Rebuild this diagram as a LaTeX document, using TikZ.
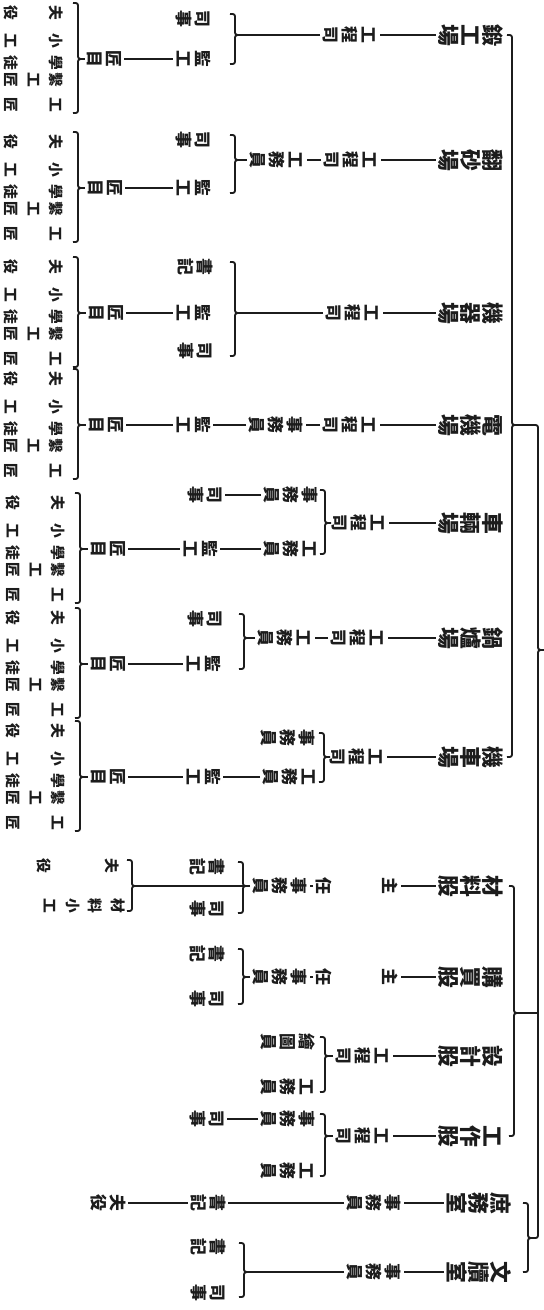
\documentclass[tikz,border=0pt]{standalone}
\usepackage{fontspec}
\newfontfamily\cjk{Noto Sans CJK TC}
\usetikzlibrary{calc}
\definecolor{Ink}{HTML}{1C1C1C}
\definecolor{Paper}{HTML}{FFFFFF}

% vertical text: one glyph per slot, "|" leaves an empty slot
\makeatletter
\newdimen\vtsep
\newdimen\vtslot
\def\vt@end{\vt@end}
\newcommand\vt[1]{\vbox{\offinterlineskip\vt@loop#1\vt@end\unkern}}
\def\vt@loop#1{%
  \ifx#1\vt@end\else
    \ifx#1|\kern\vtslot\else\hbox{\vrule height.88em depth.12em width0pt\relax#1}\fi
    \kern\vtsep
    \expandafter\vt@loop
  \fi}
\makeatother

\newcommand\unitfont{\cjk\bfseries\fontsize{15.5}{15.5}\selectfont\vtsep=0pt\vtslot=1em\relax}
\newcommand\postfont{\cjk\bfseries\fontsize{12}{12}\selectfont\vtsep=1.5pt\vtslot=1em\relax}
\newcommand\widefont{\postfont\vtslot=32pt\relax}
\newcommand\handfont{\cjk\bfseries\fontsize{10.5}{10.5}\selectfont\vtsep=5.5pt\vtslot=1em\relax}

% curly bracket: name, spine x, top y, tip y, bottom y
\newcommand\curly[5]{%
  \coordinate (#1) at (#2+6,#4);
  \coordinate (#1s) at (#2,#4);
  \draw[brk] (#2-5,#3) .. controls (#2,#3) .. (#2,#3+5) -- (#2,#4-5)
    .. controls (#2,#4) .. (#2+6,#4) .. controls (#2,#4) .. (#2,#4+5)
    -- (#2,#5-5) .. controls (#2,#5) .. (#2-5,#5);}

\tikzset{
  unit/.style={rotate=-90,inner sep=1.5pt,text=Ink,font=\unitfont},
  post/.style={rotate=-90,inner sep=1.5pt,text=Ink,font=\postfont},
  wide/.style={font=\widefont},
  hand/.style={rotate=-90,inner sep=1pt,text=Ink,font=\handfont},
  link/.style={draw=Ink,line width=1.1pt},
  brk/.style={draw=Ink,line width=1.3pt},
  pics/crew/.style={code={
    \draw[brk] (-5,-56) .. controls (0,-56) .. (0,-51) -- (0,-5) .. controls (0,0) .. (6,0)
      .. controls (0,0) .. (0,5) -- (0,49) .. controls (0,54) .. (-5,54);
    \coordinate (-tip) at (6,0);
    \node[hand] (-a) at (-44,-46) {\vt{夫|役}};
    \node[hand] (-b) at (-44,-18) {\vt{小|工}};
    \node[hand] (-c) at (-44,4) {\vt{學|徒}};
    \node[hand] (-d) at (-44,21) {\vt{繫工匠}};
    \node[hand] (-e) at (-44,46) {\vt{工|匠}};
  }}
}

\begin{document}
\begin{tikzpicture}[x=0.025cm,y=-0.025cm]
  \useasboundingbox[fill=Paper] (0,0) rectangle (544,1310);

  % top brackets
  \curly{ga}{512}{35}{425}{757}
  \curly{gb}{514}{886}{1013}{1136}
  \curly{gc}{528}{1203}{1238}{1272}
  \curly{go}{538}{425}{650}{1238}
  \coordinate (goa) at (533,425);
  \coordinate (gob) at (538,1013);
  \draw[link] (ga) -- (goa);
  \draw[link] (gb) -- (gob);

  % works 1
  \node[unit] (w1) at (471,35) {\vt{鍛工場}};
  \node[post] (w1e) at (350,35) {\vt{工程司}};
  \curly{w1b}{235}{14}{35}{64}
  \node[post] (w1c) at (193,19) {\vt{司事}};
  \node[post] (w1f) at (193,59) {\vt{監工}};
  \node[post] (w1h) at (104,59) {\vt{匠目}};
  \pic (w1k) at (78,59) {crew};
  \draw[link] (w1) -- (w1e);
  \draw[link] (w1e) -- (w1b);
  \draw[link] (w1f) -- (w1h);
  \draw[link] (w1h) -- (w1k-tip);

  % works 2
  \node[unit] (w2) at (471,160) {\vt{翻砂場}};
  \node[post] (w2e) at (351,160) {\vt{工程司}};
  \node[post] (w2s) at (277,160) {\vt{工務員}};
  \curly{w2b}{235}{135}{160}{193}
  \node[post] (w2c) at (193,140) {\vt{司事}};
  \node[post] (w2f) at (193,188) {\vt{監工}};
  \node[post] (w2h) at (105,188) {\vt{匠目}};
  \pic (w2k) at (78,188) {crew};
  \draw[link] (w2) -- (w2e);
  \draw[link] (w2e) -- (w2s);
  \draw[link] (w2s) -- (w2b);
  \draw[link] (w2f) -- (w2h);
  \draw[link] (w2h) -- (w2k-tip);

  % works 3
  \node[unit] (w3) at (471,313) {\vt{機器場}};
  \node[post] (w3e) at (353,313) {\vt{工程司}};
  \curly{w3b}{235}{262}{313}{356}
  \node[post] (w3c) at (195,267) {\vt{書記}};
  \node[post] (w3f) at (193,313) {\vt{監工}};
  \node[post] (w3d) at (195,351) {\vt{司事}};
  \node[post] (w3h) at (106,313) {\vt{匠目}};
  \pic (w3k) at (78,313) {crew};
  \draw[link] (w3) -- (w3e);
  \draw[link] (w3e) -- (w3b);
  \draw[link] (w3f) -- (w3h);
  \draw[link] (w3h) -- (w3k-tip);

  % works 4
  \node[unit] (w4) at (471,425) {\vt{電機場}};
  \node[post] (w4e) at (350,425) {\vt{工程司}};
  \node[post] (w4s) at (276,425) {\vt{事務員}};
  \node[post] (w4f) at (193,425) {\vt{監工}};
  \node[post] (w4h) at (106,425) {\vt{匠目}};
  \pic (w4k) at (78,425) {crew};
  \draw[link] (w4) -- (w4e);
  \draw[link] (w4e) -- (w4s);
  \draw[link] (w4s) -- (w4f);
  \draw[link] (w4f) -- (w4h);
  \draw[link] (w4h) -- (w4k-tip);

  % works 5
  \node[unit] (w5) at (471,523) {\vt{車輛場}};
  \node[post] (w5e) at (359,523) {\vt{工程司}};
  \curly{w5b}{325}{490}{523}{554}
  \node[post] (w5s) at (291,495) {\vt{事務員}};
  \node[post] (w5c) at (205,495) {\vt{司事}};
  \node[post] (w5t) at (291,549) {\vt{工務員}};
  \node[post] (w5f) at (200,549) {\vt{監工}};
  \node[post] (w5h) at (108,549) {\vt{匠目}};
  \pic (w5k) at (80,549) {crew};
  \draw[link] (w5) -- (w5e);
  \draw[link] (w5e) -- (w5b);
  \draw[link] (w5s) -- (w5c);
  \draw[link] (w5t) -- (w5f);
  \draw[link] (w5f) -- (w5h);
  \draw[link] (w5h) -- (w5k-tip);

  % works 6
  \node[unit] (w6) at (471,638) {\vt{鍋爐場}};
  \node[post] (w6e) at (358,638) {\vt{工程司}};
  \node[post] (w6s) at (285,638) {\vt{工務員}};
  \curly{w6b}{244}{614}{638}{669}
  \node[post] (w6c) at (205,619) {\vt{司事}};
  \node[post] (w6f) at (203,664) {\vt{監工}};
  \node[post] (w6h) at (108,664) {\vt{匠目}};
  \pic (w6k) at (80,664) {crew};
  \draw[link] (w6) -- (w6e);
  \draw[link] (w6e) -- (w6s);
  \draw[link] (w6s) -- (w6b);
  \draw[link] (w6f) -- (w6h);
  \draw[link] (w6h) -- (w6k-tip);

  % works 7
  \node[unit] (w7) at (471,757) {\vt{機車場}};
  \node[post] (w7e) at (357,757) {\vt{工程司}};
  \curly{w7b}{324}{733}{757}{782}
  \node[post] (w7s) at (288,738) {\vt{事務員}};
  \node[post] (w7t) at (290,777) {\vt{工務員}};
  \node[post] (w7f) at (203,777) {\vt{監工}};
  \node[post] (w7h) at (108,777) {\vt{匠目}};
  \pic (w7k) at (80,777) {crew};
  \draw[link] (w7) -- (w7e);
  \draw[link] (w7e) -- (w7b);
  \draw[link] (w7t) -- (w7f);
  \draw[link] (w7f) -- (w7h);
  \draw[link] (w7h) -- (w7k-tip);

  % sections
  \node[unit] (s1) at (471,886) {\vt{材料股}};
  \node[post,wide] (s1m) at (357,886) {\vt{主|任}};
  \node[post] (s1s) at (280,886) {\vt{事務員}};
  \curly{s1b}{243}{862}{886}{913}
  \node[post] (s1c) at (207,867) {\vt{書記}};
  \node[post] (s1d) at (207,909) {\vt{司事}};
  \curly{s1g}{132}{860}{886}{911}
  \node[hand] (s1x) at (78,866) {\vt{夫||役}};
  \node[hand] (s1y) at (84,906) {\vt{材料小工}};
  \draw[link] (s1) -- (s1m);
  \draw[link] (s1m) -- (s1s);
  \draw[link] (s1s) -- (s1b);
  \draw[link] (s1bs) -- (s1g);

  \node[unit] (s2) at (471,977) {\vt{購買股}};
  \node[post,wide] (s2m) at (357,977) {\vt{主|任}};
  \node[post] (s2s) at (280,977) {\vt{事務員}};
  \curly{s2b}{243}{949}{977}{1004}
  \node[post] (s2c) at (207,954) {\vt{書記}};
  \node[post] (s2d) at (207,999) {\vt{司事}};
  \draw[link] (s2) -- (s2m);
  \draw[link] (s2m) -- (s2s);
  \draw[link] (s2s) -- (s2b);

  \node[unit] (s3) at (471,1056) {\vt{設計股}};
  \node[post] (s3e) at (363,1056) {\vt{工程司}};
  \curly{s3b}{325}{1037}{1056}{1092}
  \node[post] (s3c) at (288,1042) {\vt{繪圖員}};
  \node[post] (s3t) at (288,1087) {\vt{工務員}};
  \draw[link] (s3) -- (s3e);
  \draw[link] (s3e) -- (s3b);

  \node[unit] (s4) at (471,1136) {\vt{工作股}};
  \node[post] (s4e) at (363,1136) {\vt{工程司}};
  \curly{s4b}{325}{1114}{1136}{1176}
  \node[post] (s4s) at (288,1119) {\vt{事務員}};
  \node[post] (s4c) at (207,1119) {\vt{司事}};
  \node[post] (s4t) at (288,1171) {\vt{工務員}};
  \draw[link] (s4) -- (s4e);
  \draw[link] (s4e) -- (s4b);
  \draw[link] (s4s) -- (s4c);

  % offices
  \node[unit] (o1) at (479,1203) {\vt{庶務室}};
  \node[post] (o1s) at (374,1203) {\vt{事務員}};
  \node[post] (o1c) at (208,1203) {\vt{書記}};
  \node[post] (o1l) at (108,1203) {\vt{夫役}};
  \draw[link] (o1) -- (o1s);
  \draw[link] (o1s) -- (o1c);
  \draw[link] (o1c) -- (o1l);

  \node[unit] (o2) at (479,1272) {\vt{文牘室}};
  \node[post] (o2s) at (374,1272) {\vt{事務員}};
  \curly{o2b}{244}{1243}{1272}{1297}
  \node[post] (o2c) at (208,1247) {\vt{書記}};
  \node[post] (o2d) at (208,1293) {\vt{司事}};
  \draw[link] (o2) -- (o2s);
  \draw[link] (o2s) -- (o2b);
\end{tikzpicture}
\end{document}
